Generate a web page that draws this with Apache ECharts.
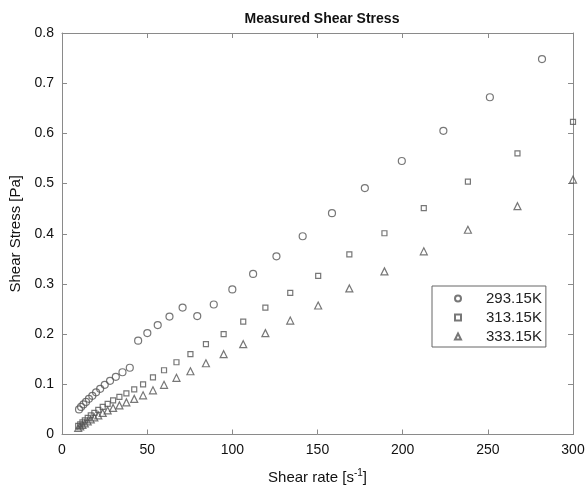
<!DOCTYPE html>
<html><head><meta charset="utf-8">
<script src="https://cdn.jsdelivr.net/npm/echarts@6/dist/echarts.min.js"></script>
<style>html,body{margin:0;padding:0;background:#fff}#c{width:588px;height:490px}</style>
</head><body><div id="c"></div>
<script>
const seriesNames = ['293.15K', '313.15K', '333.15K'];
const rate293 = [10, 11.2, 12.6, 14.1, 15.8, 17.8, 20, 22.4, 25.1, 28.2, 31.6, 35.5, 39.8, 44.7, 50.1, 56.2, 63.1, 70.8, 79.4, 89.1, 100, 112.2, 125.9, 141.3, 158.5, 177.8, 199.5, 223.9, 251.2, 281.8];
const stress293 = [0.050, 0.055, 0.060, 0.065, 0.071, 0.077, 0.084, 0.091, 0.099, 0.107, 0.115, 0.124, 0.133, 0.187, 0.202, 0.218, 0.235, 0.253, 0.236, 0.259, 0.289, 0.320, 0.355, 0.395, 0.441, 0.491, 0.545, 0.605, 0.672, 0.748];
const rate313 = [9.5, 10.7, 12, 13.4, 15.1, 16.9, 19, 21.3, 23.9, 26.8, 30, 33.7, 37.8, 42.4, 47.6, 53.4, 59.9, 67.2, 75.4, 84.5, 94.9, 106.4, 119.4, 134, 150.4, 168.7, 189.3, 212.4, 238.3, 267.4, 300];
const stress313 = [0.017, 0.020, 0.024, 0.028, 0.033, 0.038, 0.043, 0.049, 0.055, 0.061, 0.068, 0.075, 0.082, 0.090, 0.100, 0.114, 0.128, 0.144, 0.160, 0.180, 0.200, 0.225, 0.253, 0.282, 0.316, 0.359, 0.401, 0.451, 0.504, 0.560, 0.623];
const rate333 = rate313;
const stress333 = [0.013, 0.016, 0.019, 0.022, 0.026, 0.030, 0.034, 0.038, 0.043, 0.048, 0.053, 0.058, 0.064, 0.071, 0.078, 0.088, 0.099, 0.113, 0.126, 0.142, 0.160, 0.180, 0.202, 0.227, 0.257, 0.291, 0.325, 0.365, 0.408, 0.455, 0.508];
const xTicks = [0, 50, 100, 150, 200, 250, 300];
const yTicks = [0, 0.1, 0.2, 0.3, 0.4, 0.5, 0.6, 0.7, 0.8];

const FONT = '"Liberation Sans", Arial, sans-serif';
const AX = '#8a8a8a';
const MK = '#555';
function pairs(xs, ys){ return xs.map((x,i)=>[x, ys[i]]); }
const mk = (sym, size) => ({
  type: 'scatter', symbol: sym, symbolSize: size,
  itemStyle: {color: 'rgba(255,255,255,0)', borderColor: MK, borderWidth: 1.2},
  xAxisIndex: 0, yAxisIndex: 0
});
const baseX = {
  type: 'value', min: 0, max: 300, interval: 50,
  axisLine: {show: true, onZero: false, lineStyle: {color: AX, width: 1}},
  axisTick: {show: true, inside: true, length: 5, lineStyle: {color: AX}},
  splitLine: {show: false}
};
const baseY = {
  type: 'value', min: 0, max: 0.8, interval: 0.1,
  axisLine: {show: true, onZero: false, lineStyle: {color: AX, width: 1}},
  axisTick: {show: true, inside: true, length: 5, lineStyle: {color: AX}},
  splitLine: {show: false}
};
const chart = echarts.init(document.getElementById('c'), null, {renderer: 'canvas'});
chart.setOption({
  animation: false,
  backgroundColor: '#fff',
  textStyle: {fontFamily: FONT},
  title: {
    text: 'Measured Shear Stress', left: 317, top: 7, textAlign: 'center',
    textStyle: {fontFamily: FONT, fontSize: 14, fontWeight: 'bold', color: '#111'}
  },
  grid: {left: 62, right: 15, top: 33, bottom: 54, containLabel: false},
  xAxis: [
    Object.assign({}, baseX, {
      position: 'bottom',
      axisLabel: {color: '#111', fontSize: 14, fontFamily: FONT, margin: 9,
        formatter: v => xTicks.includes(v) ? String(v) : ''},
      name: '{a|Shear rate [s}{s|-1}{a|]}', nameLocation: 'middle', nameGap: 34,
      nameTextStyle: {rich: {
        a: {fontSize: 15, fontFamily: FONT, color: '#111'},
        s: {fontSize: 10, fontFamily: FONT, color: '#111', verticalAlign: 'top', padding: [0,0,8,0]}
      }}
    }),
    Object.assign({}, baseX, {position: 'top', axisLabel: {show: false}})
  ],
  yAxis: [
    Object.assign({}, baseY, {
      position: 'left',
      axisLabel: {color: '#111', fontSize: 14, fontFamily: FONT, margin: 8,
        formatter: v => { const t = yTicks.find(k => Math.abs(k - v) < 1e-9); return t === undefined ? '' : (t === 0 ? '0' : t.toFixed(1)); }},
      name: 'Shear Stress [Pa]', nameLocation: 'middle', nameGap: 38,
      nameTextStyle: {fontSize: 15, fontFamily: FONT, color: '#111'}
    }),
    Object.assign({}, baseY, {position: 'right', axisLabel: {show: false}})
  ],
  legend: {
    orient: 'vertical', left: 432, top: 286,
    borderColor: '#666', borderWidth: 1, backgroundColor: '#fff',
    padding: [5, 4, 3, 22], itemGap: 4,
    itemWidth: 6, itemHeight: 6,
    textStyle: {fontSize: 15, fontFamily: FONT, color: '#222', padding: [0, 0, 0, 20]},
    data: seriesNames
  },
  series: [
    Object.assign(mk('circle', 7), {name: seriesNames[0], data: pairs(rate293, stress293)}),
    Object.assign(mk('rect', 5), {name: seriesNames[1], data: pairs(rate313, stress313)}),
    Object.assign(mk('triangle', 7), {name: seriesNames[2], data: pairs(rate333, stress333)})
  ]
});
</script></body></html>
